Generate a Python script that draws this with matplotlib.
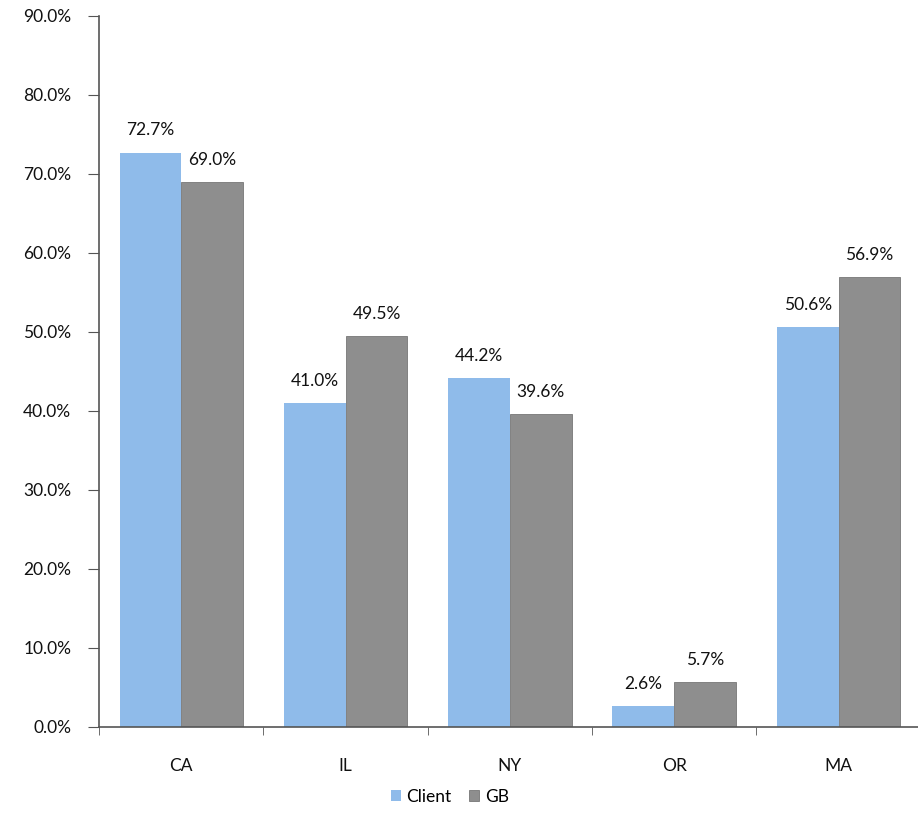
import matplotlib
matplotlib.use("Agg")
import matplotlib.pyplot as plt
import numpy as np
from matplotlib.ticker import FuncFormatter, MultipleLocator

states = ["CA", "IL", "NY", "OR", "MA"]
client = [72.7, 41.0, 44.2, 2.6, 50.6]
gb = [69.0, 49.5, 39.6, 5.7, 56.9]
series_names = ["Client", "GB"]

plt.rcParams["font.family"] = ["Lato", "DejaVu Sans"]

fig = plt.figure(figsize=(9.18, 8.38), dpi=100)
ax = fig.add_axes([0.108, 0.1325, 0.895, 0.8485])

blue = "#8fbbea"
grey = "#8e8e8e"
w = 0.376
x = np.arange(len(states))
b1 = ax.bar(x - w / 2, client, w, color=blue, label=series_names[0])
b2 = ax.bar(x + w / 2, gb, w, color=grey, edgecolor="#777777", linewidth=0.6,
            label=series_names[1])

for bars, vals in ((b1, client), (b2, gb)):
    for r, v in zip(bars, vals):
        ax.text(r.get_x() + r.get_width() / 2, v + 1.8, f"{v:.1f}%",
                ha="center", va="bottom", fontsize=12.5, color="#111111")

ax.set_xlim(-0.5, len(states) - 0.5)
ax.set_ylim(0, 90)
ax.yaxis.set_major_locator(MultipleLocator(10))
ax.yaxis.set_major_formatter(FuncFormatter(lambda v, p: f"{v:.1f}%"))
ax.set_xticks(x)
ax.set_xticklabels(states)
ax.set_xticks(np.arange(len(states) + 1) - 0.5, minor=True)
ax.tick_params(axis="x", which="major", length=0, pad=22, labelsize=12.5,
               labelcolor="#111111")
ax.tick_params(axis="x", which="minor", length=6, color="#555555", direction="out")
ax.tick_params(axis="y", length=8, color="#555555", labelsize=12.5, pad=12,
               labelcolor="#111111")

for s in ("top", "right"):
    ax.spines[s].set_visible(False)
for s in ("left", "bottom"):
    ax.spines[s].set_color("#555555")
    ax.spines[s].set_linewidth(1.2)

fig.legend(handles=[b1, b2], labels=series_names, loc="center",
           bbox_to_anchor=(0.49, 0.049), ncol=2, frameon=False, fontsize=12.5,
           handlelength=0.6, handleheight=0.6, handletextpad=0.3, columnspacing=1.0)

fig.savefig("out.png", dpi=100)
